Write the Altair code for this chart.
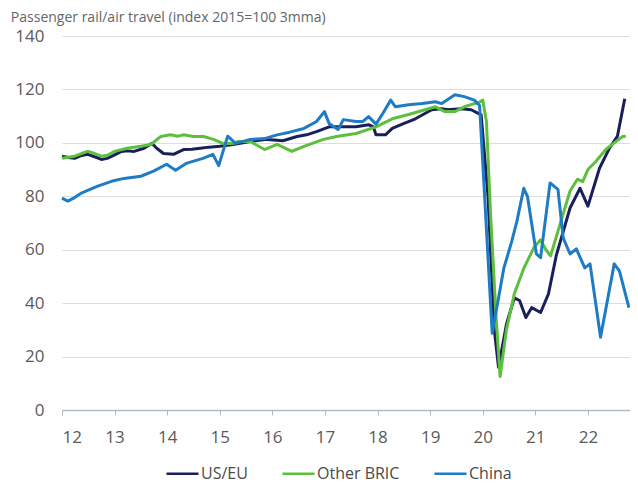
import altair as alt
import pandas as pd

# ---- data (x = year since 2000, fractional) ----
us_x = [12.0, 12.12, 12.24, 12.37, 12.49, 12.62, 12.75, 12.86, 13.0, 13.13, 13.25, 13.37, 13.56, 13.71, 13.8, 13.93,
        14.12, 14.31, 14.47, 14.63, 14.8, 15.0, 15.25, 15.58, 15.9, 16.2, 16.47, 16.65, 16.84, 17.08, 17.35, 17.59,
        17.83, 17.92, 17.97, 18.15, 18.28, 18.47, 18.72, 19.03, 19.22, 19.33, 19.6, 19.78, 19.97, 20.1, 20.22, 20.3,
        20.45, 20.6, 20.7, 20.82, 20.93, 21.1, 21.25, 21.4, 21.66, 21.85, 22.0, 22.22, 22.41, 22.56, 22.7]
us_v = [95, 94.5, 94.2, 95.3, 95.7, 94.8, 93.8, 94.2, 95.5, 96.8, 97, 96.8, 98, 99.8, 98, 96,
        95.7, 97.5, 97.6, 98, 98.4, 98.7, 99.4, 100.5, 101.3, 100.8, 102.4, 103, 104.2, 106, 106, 106,
        106.8, 106, 103, 103, 105.4, 107, 109, 112.4, 112.8, 112.4, 112.8, 112.4, 110.5, 80, 30, 16,
        32, 42, 41, 34.6, 38.3, 36.5, 43.5, 58, 75.6, 83, 76.3, 90.5, 98, 102.4, 116.5]

bric_x = [12.0, 12.12, 12.24, 12.37, 12.49, 12.62, 12.75, 12.88, 13.0, 13.24, 13.5, 13.69, 13.88, 14.06, 14.2, 14.31,
          14.5, 14.69, 14.88, 15.06, 15.25, 15.34, 15.58, 15.85, 16.09, 16.37, 16.6, 16.97, 17.22, 17.59, 17.97, 18.28,
          18.59, 19.1, 19.28, 19.47, 19.65, 19.84, 19.92, 20.0, 20.07, 20.15, 20.25, 20.33, 20.45, 20.6, 20.78, 20.97,
          21.1, 21.2, 21.29, 21.47, 21.66, 21.8, 21.9, 22.0, 22.15, 22.34, 22.5, 22.66, 22.72]
bric_v = [94.2, 94.6, 95, 96, 96.8, 96, 95, 95.5, 96.8, 98, 98.7, 99.4, 102.4, 103, 102.5, 103,
          102.4, 102.4, 101.3, 99.8, 99.8, 100.5, 100.5, 97.5, 99.4, 96.8, 98.7, 101.3, 102.4, 103.5, 106, 109,
          110.6, 113.5, 111.7, 111.7, 113.5, 114.7, 115, 116, 108, 73, 36, 12.5, 30, 43.5, 53, 60.7,
          63.7, 60, 57.7, 69.6, 82, 86.4, 85.5, 90, 93, 97.5, 100, 102.4, 102.5]

cn_x = [12.0, 12.11, 12.24, 12.37, 12.5, 12.68, 12.94, 13.18, 13.5, 13.74, 13.99, 14.16, 14.36, 14.68, 14.87, 14.98,
        15.15, 15.3, 15.58, 15.85, 16.09, 16.33, 16.6, 16.84, 16.99, 17.08, 17.25, 17.35, 17.59, 17.72, 17.83, 17.97,
        18.1, 18.25, 18.34, 18.59, 18.85, 19.1, 19.22, 19.47, 19.65, 19.84, 19.94, 20.18, 20.4, 20.55, 20.65, 20.78,
        20.85, 21.02, 21.1, 21.28, 21.43, 21.53, 21.66, 21.78, 21.94, 22.04, 22.24, 22.5, 22.6, 22.78]
cn_v = [79.3, 78.2, 79.5, 81.2, 82.3, 83.8, 85.6, 86.7, 87.5, 89.4, 92, 89.7, 92.3, 94.2, 95.7, 91.5,
        102.5, 99.8, 101.3, 101.6, 103, 104, 105.4, 108, 111.7, 107.2, 105, 108.7, 108, 108, 109.8, 107,
        111, 116, 113.5, 114.3, 114.7, 115.4, 114.7, 118, 117.3, 116, 114, 28.7, 53, 63, 70.7, 83,
        80, 58.4, 57, 85, 82.6, 64.4, 58.4, 60.3, 53.2, 54.7, 27.2, 54.7, 52, 38.3]

series_names = ["US/EU", "Other BRIC", "China"]
series_colors = ["#1a1f5c", "#5cbf3d", "#1e7cc4"]
x_ticks = [12, 13, 14, 15, 16, 17, 18, 19, 20, 21, 22]
y_ticks = [0, 20, 40, 60, 80, 100, 120, 140]

rows = []
for name, xs, vs in [("US/EU", us_x, us_v), ("Other BRIC", bric_x, bric_v), ("China", cn_x, cn_v)]:
    for i, (x, v) in enumerate(zip(xs, vs)):
        rows.append({"series": name, "t": x, "value": v, "order": i})
df = pd.DataFrame(rows)

FONT = "Open Sans"

chart = alt.Chart(df).mark_line(strokeWidth=3, strokeJoin="round").encode(
    x=alt.X("t:Q", scale=alt.Scale(domain=[12, 22.8], nice=False, zero=False),
            axis=alt.Axis(values=x_ticks, format="d", title=None, grid=False,
                          domainColor="#a9bccb", domainWidth=1.5, tickColor="#a9bccb",
                          tickSize=5, labelFontSize=17, labelColor="#5a5a5a", labelFont=FONT,
                          labelPadding=14)),
    y=alt.Y("value:Q", scale=alt.Scale(domain=[0, 140], nice=False),
            axis=alt.Axis(values=y_ticks, title=None, domain=False, ticks=False,
                          labelPadding=18, labelFontSize=17, labelColor="#5a5a5a", labelFont=FONT,
                          gridColor="#dddddd", gridWidth=1)),
    color=alt.Color("series:N",
                    scale=alt.Scale(domain=series_names, range=series_colors),
                    sort=series_names,
                    legend=alt.Legend(title=None, orient="none", direction="horizontal",
                                      legendX=103, legendY=420,
                                      symbolType="stroke", symbolStrokeWidth=2.5, symbolSize=1024,
                                      labelFontSize=16, labelColor="#4a4a4a", labelFont=FONT,
                                      labelOffset=1, columnPadding=29)),
    order=alt.Order("order:Q"),
    detail="series:N",
).properties(
    width=568,
    height=374,
    autosize=alt.AutoSizeParams(type="none"),
    padding={"left": 54, "top": 28, "right": 0, "bottom": 75},
    title=alt.TitleParams("Passenger rail/air travel (index 2015=100 3mma)", anchor="start",
                          dx=-4, offset=2.5, fontSize=14, fontWeight="normal",
                          color="#5f6767", font=FONT),
).configure_view(stroke=None)

chart.save("out.html", embed_options={"renderer": "svg", "actions": False})
